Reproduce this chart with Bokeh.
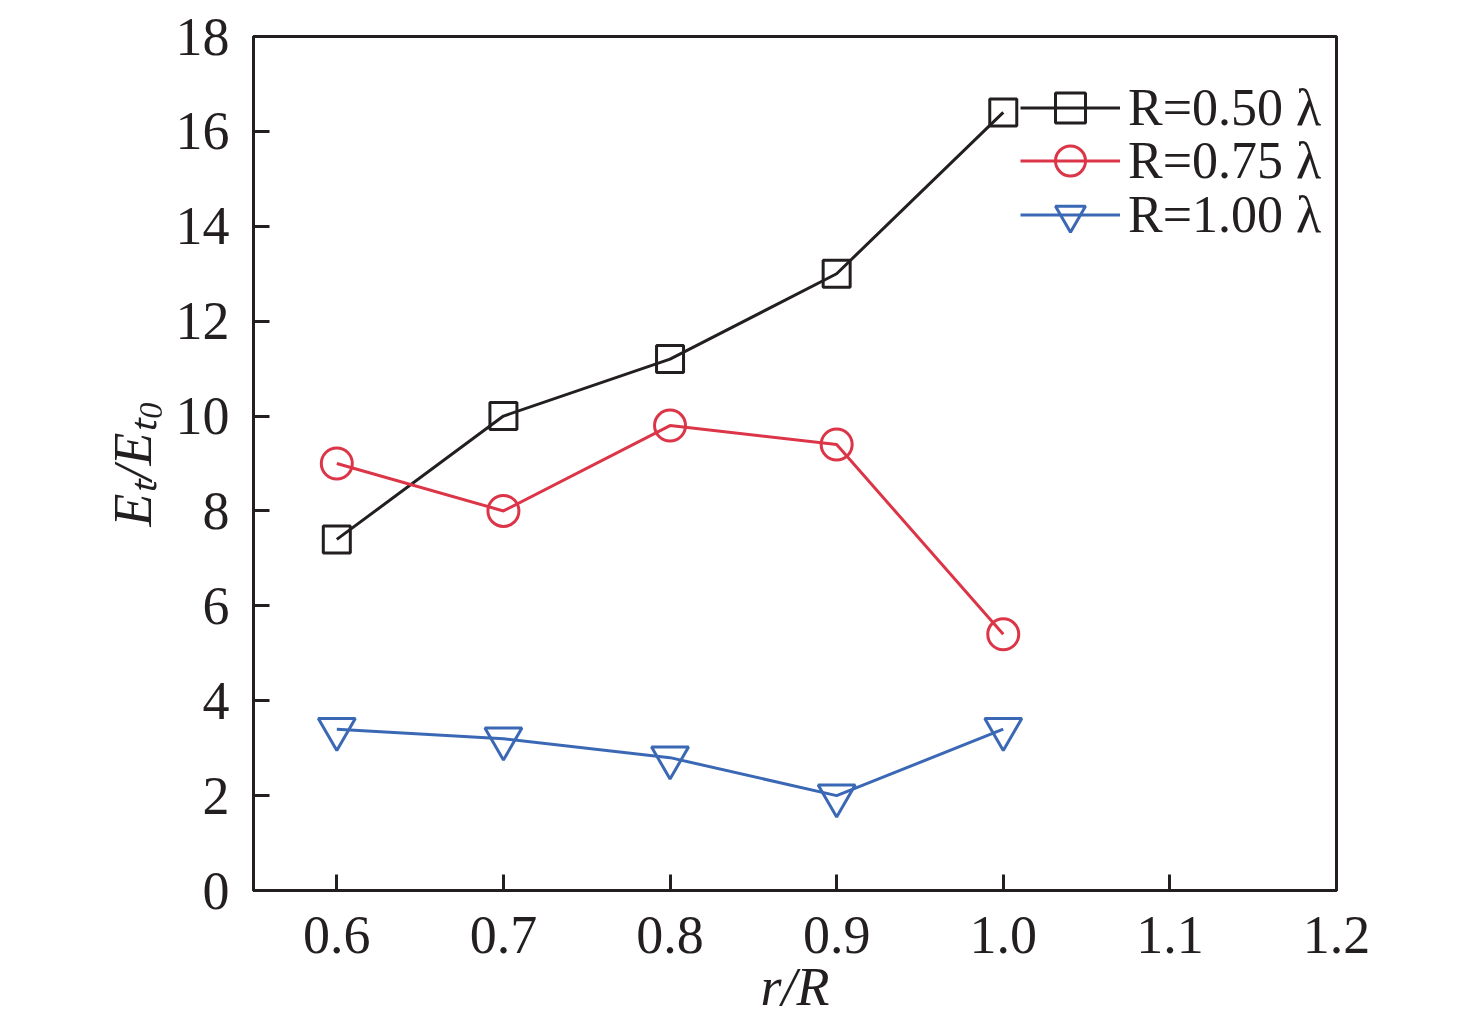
from bokeh.plotting import figure
from bokeh.models import FixedTicker, NumeralTickFormatter, Range1d, Legend, LegendItem
from bokeh.embed import file_html
from bokeh.resources import INLINE

x_vals = [0.6, 0.7, 0.8, 0.9, 1.0]
r050 = [7.4, 10.0, 11.2, 13.0, 16.4]
r075 = [9.0, 8.0, 9.8, 9.4, 5.4]
r100 = [3.4, 3.2, 2.8, 2.0, 3.4]
x_ticks = [0.6, 0.7, 0.8, 0.9, 1.0, 1.1, 1.2]
y_ticks = [0, 2, 4, 6, 8, 10, 12, 14, 16, 18]
labels = ["R=0.50 λ", "R=0.75 λ", "R=1.00 λ"]

BLACK = "#231f20"
RED = "#dc3548"
BLUE = "#3b68b5"
FONT = "Liberation Serif"

p = figure(width=1460, height=1019, output_backend="svg", toolbar_location=None,
           x_range=Range1d(0.55, 1.2), y_range=Range1d(0, 18),
           min_border_left=253, min_border_right=124, min_border_top=36, min_border_bottom=129)
p.grid.visible = False
p.outline_line_color = BLACK
p.outline_line_width = 3
p.outline_line_alpha = 1.0

for ax in (p.xaxis[0], p.yaxis[0]):
    ax.axis_line_color = BLACK
    ax.axis_line_width = 3
    ax.major_tick_line_color = BLACK
    ax.major_tick_line_width = 3
    ax.major_tick_in = 16
    ax.major_tick_out = 0
    ax.minor_tick_line_color = None
    ax.major_label_text_font = FONT
    ax.major_label_text_font_size = "54px"
    ax.major_label_text_color = BLACK
    ax.axis_label_text_font = FONT
    ax.axis_label_text_font_size = "54px"
    ax.axis_label_text_font_style = "italic"
    ax.axis_label_text_color = BLACK

p.xaxis.ticker = FixedTicker(ticks=x_ticks)
p.xaxis.formatter = NumeralTickFormatter(format="0.0")
p.yaxis.ticker = FixedTicker(ticks=y_ticks)
p.xaxis.major_label_standoff = 26
p.yaxis.major_label_standoff = 24
p.xaxis.axis_label = "r/R"
p.yaxis.axis_label = "Eₜ/Eₜ₀"
p.xaxis.axis_label_standoff = 1
p.yaxis.axis_label_standoff = 10

l1 = p.line(x_vals, r050, line_color=BLACK, line_width=3)
m1 = p.scatter(x_vals, r050, marker="square", size=27, fill_color=None, line_color=BLACK, line_width=3)
l2 = p.line(x_vals, r075, line_color=RED, line_width=3)
m2 = p.scatter(x_vals, r075, marker="circle", size=31, fill_color=None, line_color=RED, line_width=3)
l3 = p.line(x_vals, r100, line_color=BLUE, line_width=3)
m3 = p.scatter(x_vals, r100, marker="inverted_triangle", size=37, fill_color=None, line_color=BLUE, line_width=3)

# one legend per series so rows can sit closer than the legend marker box
legend_rows = [(labels[0], [l1, m1], 745), (labels[1], [l2, m2], 692), (labels[2], [l3, m3], 638)]
for lab, rends, vy in legend_rows:
    lg = Legend(items=[LegendItem(label=lab, renderers=rends)],
                location=(767, vy), orientation="vertical",
                border_line_color=None, background_fill_alpha=0,
                padding=0, margin=0, spacing=0,
                glyph_width=100, glyph_height=75, label_height=40,
                label_standoff=8,
                label_text_font=FONT, label_text_font_size="52px", label_text_color=BLACK)
    p.add_layout(lg)

open("out.html", "w").write(file_html(p, INLINE))
